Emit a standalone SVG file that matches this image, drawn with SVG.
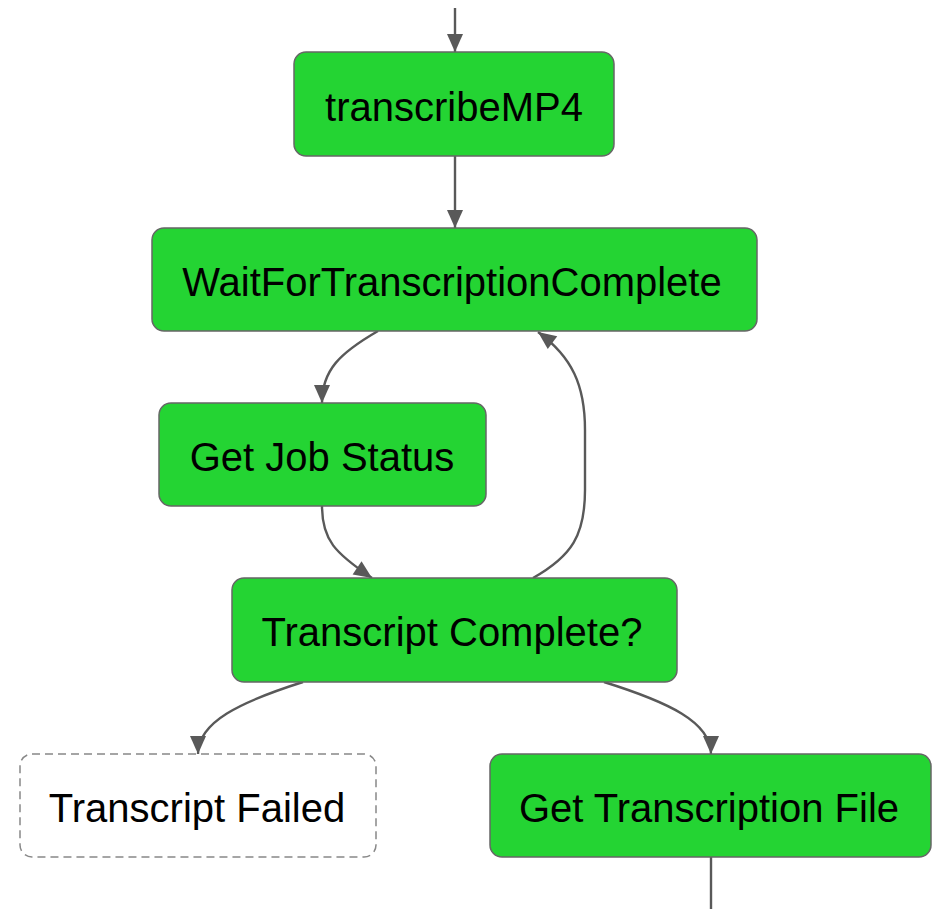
<svg xmlns="http://www.w3.org/2000/svg" width="938" height="909" viewBox="0 0 938 909">
<style>
.box{fill:#24d433;stroke:#666;stroke-width:1.5}
.dash{fill:#fff;stroke:#888;stroke-width:1.5;stroke-dasharray:8 5}
.lbl{font-family:"Liberation Sans",Arial,sans-serif;font-size:40px;fill:#000;text-anchor:middle}
.edge{fill:none;stroke:#595959;stroke-width:2.4}
</style>
<defs>
<marker id="arr" markerUnits="userSpaceOnUse" markerWidth="24" markerHeight="24" viewBox="0 0 24 24" refX="20" refY="12" orient="auto">
<path d="M2,4 L20,12 L2,20 Z" fill="#595959"/>
</marker>
</defs>
<g id="connectors">
<path class="edge" d="M455,8 L455,52" marker-end="url(#arr)"/>
<path class="edge" d="M455,156 L455,228" marker-end="url(#arr)"/>
<path class="edge" d="M378,331 C340,353 322,370 322,403" marker-end="url(#arr)"/>
<path class="edge" d="M322,506 C322,540 335,553 372,578" marker-end="url(#arr)"/>
<path class="edge" d="M533,578 C572,556 585,535 585,490 L585,430 C585,385 572,357 538,332" marker-end="url(#arr)"/>
<path class="edge" d="M303,682 C240,702 198,722 198,754" marker-end="url(#arr)"/>
<path class="edge" d="M604,682 C668,702 711,722 711,754" marker-end="url(#arr)"/>
<path class="edge" d="M711,857 L711,909"/>
</g>
<g id="transcribeMP4">
<rect class="box" x="294" y="52" width="320" height="104" rx="12"/>
<text class="lbl" x="454" y="121">transcribeMP4</text>
</g>
<g id="WaitForTranscriptionComplete">
<rect class="box" x="152" y="228" width="605" height="103" rx="12"/>
<text class="lbl" x="452" y="296">WaitForTranscriptionComplete</text>
</g>
<g id="GetJobStatus">
<rect class="box" x="159" y="403" width="327" height="103" rx="12"/>
<text class="lbl" x="322" y="471">Get Job Status</text>
</g>
<g id="TranscriptComplete">
<rect class="box" x="232" y="578" width="445" height="104" rx="12"/>
<text class="lbl" x="452" y="646">Transcript Complete?</text>
</g>
<g id="TranscriptFailed">
<rect class="dash" x="20" y="754" width="356" height="103" rx="12"/>
<text class="lbl" x="197" y="822">Transcript Failed</text>
</g>
<g id="GetTranscriptionFile">
<rect class="box" x="490" y="754" width="441" height="103" rx="12"/>
<text class="lbl" x="709" y="822">Get Transcription File</text>
</g>
</svg>
